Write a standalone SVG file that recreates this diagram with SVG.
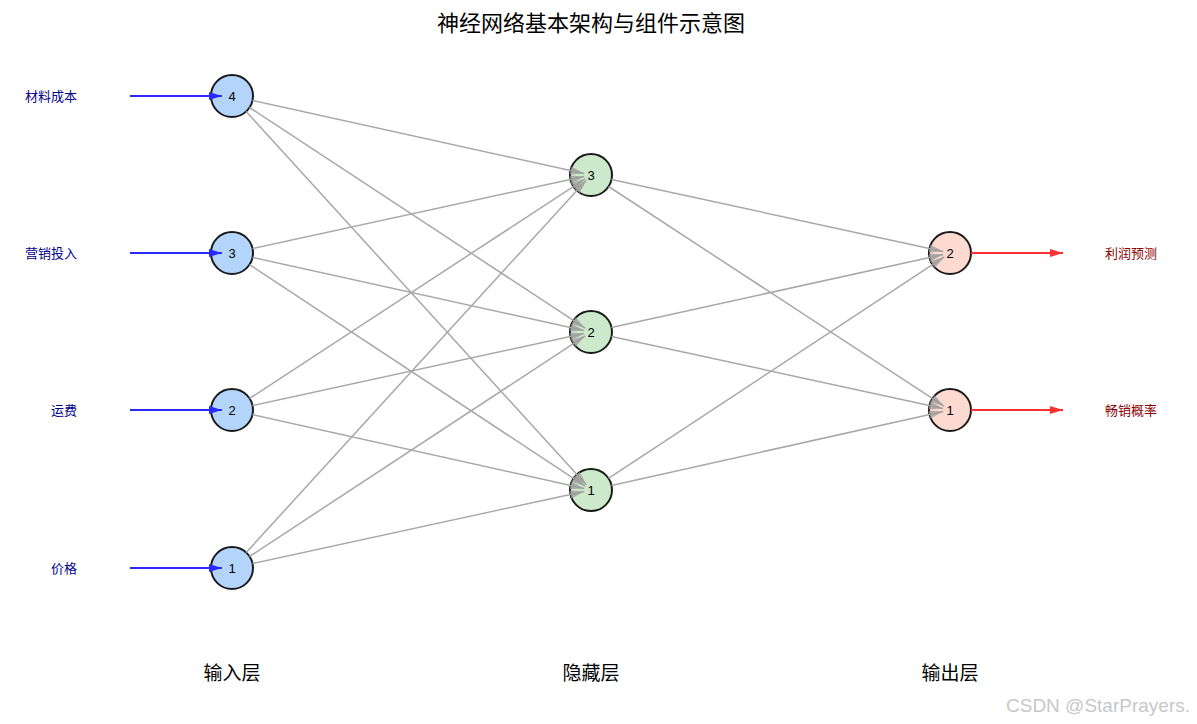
<svg xmlns="http://www.w3.org/2000/svg" width="1197" height="724" viewBox="0 0 1197 724">
<style>
.t{font-family:"Liberation Sans","Noto Sans CJK SC",sans-serif}
.n{stroke:#1a1a1a;stroke-width:2}
.in{fill:#b3d5fb}.hd{fill:#cde9cb}.ou{fill:#fed9d0}
.num{font-family:"Liberation Sans",sans-serif;font-size:13px;fill:#000;text-anchor:middle}
.e{stroke:#a8a8a8;stroke-width:1.5;fill:none;marker-end:url(#ag)}
.ib{stroke:#2a2aff;stroke-width:1.8;marker-end:url(#ab)}
.or{stroke:#ff3030;stroke-width:1.8;marker-end:url(#ar)}
.il{font-size:13px;fill:#00008b;text-anchor:end}
.ol{font-size:13px;fill:#8b0000}
.ll{font-size:19px;fill:#000;text-anchor:middle}
</style>
<defs>
<marker id="ag" markerUnits="userSpaceOnUse" markerWidth="16" markerHeight="10" refX="14" refY="4" orient="auto"><path d="M0,0 L14,4 L0,8 z" fill="#999" fill-opacity="0.75"/></marker>
<marker id="ab" markerUnits="userSpaceOnUse" markerWidth="16" markerHeight="10" refX="13" refY="4" orient="auto"><path d="M0,0 L13,4 L0,8 z" fill="#2a2aff"/></marker>
<marker id="ar" markerUnits="userSpaceOnUse" markerWidth="16" markerHeight="10" refX="13" refY="4" orient="auto"><path d="M0,0 L13,4 L0,8 z" fill="#ff3030"/></marker>
</defs>
<rect width="1197" height="724" fill="#fff"/>
<text class="t" x="591" y="31" font-size="22" text-anchor="middle" fill="#000">神经网络基本架构与组件示意图</text>

<g id="input-1"><circle class="n in" cx="232" cy="568" r="21"/><text class="num" x="232" y="572.5">1</text></g>
<g id="input-2"><circle class="n in" cx="232" cy="410" r="21"/><text class="num" x="232" y="414.5">2</text></g>
<g id="input-3"><circle class="n in" cx="232" cy="253" r="21"/><text class="num" x="232" y="257.5">3</text></g>
<g id="input-4"><circle class="n in" cx="232" cy="96" r="21"/><text class="num" x="232" y="100.5">4</text></g>
<g id="hidden-1"><circle class="n hd" cx="591" cy="490" r="21"/><text class="num" x="591" y="494.5">1</text></g>
<g id="hidden-2"><circle class="n hd" cx="591" cy="332" r="21"/><text class="num" x="591" y="336.5">2</text></g>
<g id="hidden-3"><circle class="n hd" cx="591" cy="175" r="21"/><text class="num" x="591" y="179.5">3</text></g>
<g id="output-1"><circle class="n ou" cx="950" cy="410" r="21"/><text class="num" x="950" y="414.5">1</text></g>
<g id="output-2"><circle class="n ou" cx="950" cy="253" r="21"/><text class="num" x="950" y="257.5">2</text></g>

<g id="labels" class="t">
<text class="il" x="77" y="100.5">材料成本</text>
<text class="il" x="77" y="258">营销投入</text>
<text class="il" x="77" y="415">运费</text>
<text class="il" x="77" y="573">价格</text>
<text class="ol" x="1105" y="258">利润预测</text>
<text class="ol" x="1105" y="415">畅销概率</text>
<text class="ll" x="232" y="680">输入层</text>
<text class="ll" x="591" y="680">隐藏层</text>
<text class="ll" x="950" y="680">输出层</text>
</g>

<g id="connectors">
<line class="e" x1="252.5" y1="100.5" x2="584.2" y2="173.5"/>
<line class="e" x1="249.5" y1="107.5" x2="585.2" y2="328.2"/>
<line class="e" x1="246.1" y1="111.5" x2="586.3" y2="484.8"/>
<line class="e" x1="252.5" y1="248.5" x2="584.2" y2="176.5"/>
<line class="e" x1="252.5" y1="257.5" x2="584.2" y2="330.5"/>
<line class="e" x1="249.5" y1="264.6" x2="585.2" y2="486.1"/>
<line class="e" x1="249.6" y1="398.5" x2="585.1" y2="178.8"/>
<line class="e" x1="252.5" y1="405.5" x2="584.2" y2="333.5"/>
<line class="e" x1="252.5" y1="414.6" x2="584.2" y2="488.5"/>
<line class="e" x1="246.2" y1="552.5" x2="586.3" y2="180.2"/>
<line class="e" x1="249.5" y1="556.5" x2="585.2" y2="335.8"/>
<line class="e" x1="252.5" y1="563.5" x2="584.2" y2="491.5"/>
<line class="e" x1="611.5" y1="179.5" x2="943.2" y2="251.5"/>
<line class="e" x1="608.6" y1="186.5" x2="944.1" y2="406.2"/>
<line class="e" x1="611.5" y1="327.5" x2="943.2" y2="254.5"/>
<line class="e" x1="611.5" y1="336.5" x2="943.2" y2="408.5"/>
<line class="e" x1="608.5" y1="478.4" x2="944.2" y2="256.9"/>
<line class="e" x1="611.5" y1="485.4" x2="943.2" y2="411.5"/>
<line class="ib" x1="130" y1="96" x2="222" y2="96"/>
<line class="ib" x1="130" y1="253" x2="222" y2="253"/>
<line class="ib" x1="130" y1="410" x2="222" y2="410"/>
<line class="ib" x1="130" y1="568" x2="222" y2="568"/>
<line class="or" x1="971" y1="253" x2="1063" y2="253"/>
<line class="or" x1="971" y1="410" x2="1063" y2="410"/>
</g>

<text x="1190" y="712" font-family="Liberation Sans,sans-serif" font-size="19" fill="#c8c8c8" text-anchor="end">CSDN @StarPrayers.</text>
</svg>
